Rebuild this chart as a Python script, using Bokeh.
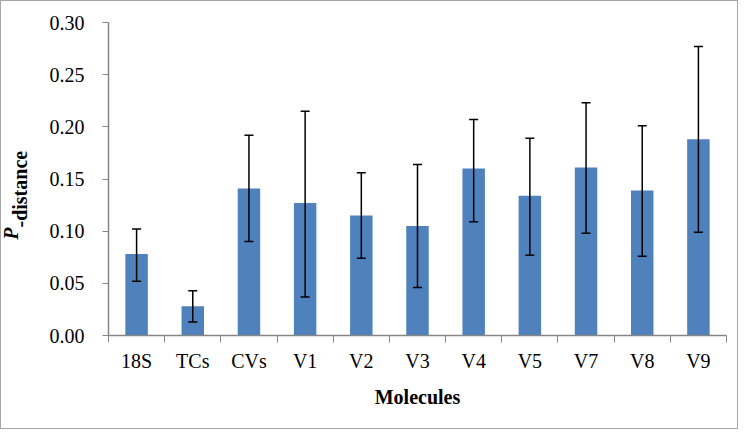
import math
from bokeh.plotting import figure
from bokeh.models import (ColumnDataSource, Whisker, TeeHead, FixedTicker,
                          NumeralTickFormatter, Range1d, Label)
from bokeh.embed import file_html
from bokeh.resources import INLINE

categories = ["18S", "TCs", "CVs", "V1", "V2", "V3", "V4", "V5", "V7", "V8", "V9"]
means = [0.078, 0.028, 0.141, 0.127, 0.115, 0.105, 0.160, 0.134, 0.161, 0.139, 0.188]
upper_err = [0.102, 0.043, 0.192, 0.215, 0.156, 0.164, 0.207, 0.189, 0.223, 0.201, 0.277]
lower_err = [0.052, 0.013, 0.090, 0.037, 0.074, 0.046, 0.109, 0.077, 0.098, 0.076, 0.099]
y_ticks = [0.00, 0.05, 0.10, 0.15, 0.20, 0.25, 0.30]

FONT = "Times New Roman"
n = len(categories)
xs = [i + 0.5 for i in range(n)]

src = ColumnDataSource(dict(x=xs, top=means, upper=upper_err, lower=lower_err, cat=categories))

p = figure(width=738, height=429, output_backend="svg", toolbar_location=None,
           x_range=Range1d(0, n), y_range=Range1d(0, 0.30),
           min_border_left=107, min_border_right=13, min_border_top=21, min_border_bottom=95)
p.styles = {"border": "1px solid #a6a6a6"}
p.outline_line_color = None
p.xgrid.visible = False
p.ygrid.visible = False
p.background_fill_color = "white"
p.border_fill_color = "white"

p.vbar(x="x", top="top", width=0.40, source=src, fill_color="#4F81BD", line_color=None)

cap = dict(size=9, line_color="black", line_width=1.5)
p.add_layout(Whisker(source=src, base="x", upper="upper", lower="lower",
                     line_color="black", line_width=1.5, level="overlay",
                     upper_head=TeeHead(**cap), lower_head=TeeHead(**cap)))

# x axis
xa = p.xaxis[0]
xa.ticker = FixedTicker(ticks=xs, minor_ticks=list(range(n + 1)))
xa.major_label_overrides = {x: c for x, c in zip(xs, categories)}
xa.major_tick_out = 0
xa.major_tick_in = 0
xa.minor_tick_out = 7
xa.minor_tick_in = 0
xa.minor_tick_line_color = "#868686"
xa.axis_line_color = "#868686"
xa.axis_line_width = 1.5
xa.major_label_text_font = FONT
xa.major_label_text_font_size = "20px"
xa.major_label_text_color = "black"
xa.major_label_standoff = 7
xa.axis_label = "Molecules"
xa.axis_label_text_font = FONT
xa.axis_label_text_font_size = "20px"
xa.axis_label_text_font_style = "bold"
xa.axis_label_text_color = "black"
xa.axis_label_standoff = 11

# y axis
ya = p.yaxis[0]
ya.ticker = FixedTicker(ticks=y_ticks, minor_ticks=[])
ya.formatter = NumeralTickFormatter(format="0.00")
ya.major_tick_out = 6
ya.major_tick_in = 0
ya.major_tick_line_color = "#868686"
ya.axis_line_color = "#868686"
ya.axis_line_width = 1.5
ya.major_label_text_font = FONT
ya.major_label_text_font_size = "20px"
ya.major_label_text_color = "black"
ya.major_label_standoff = 18

# y axis title in the left side panel: italic bold "P" + bold "-distance"
p.add_layout(Label(x=-14, y=108, x_units="screen", y_units="screen", text="P",
                   angle=math.pi / 2, text_align="right", text_baseline="middle",
                   text_font=FONT, text_font_size="20px",
                   text_font_style="bold italic", text_color="black"), "left")
p.add_layout(Label(x=17, y=108, x_units="screen", y_units="screen", text="-distance",
                   angle=math.pi / 2, text_align="left", text_baseline="middle",
                   text_font=FONT, text_font_size="20px",
                   text_font_style="bold", text_color="black"), "left")

open("out.html", "w").write(file_html(p, INLINE))
